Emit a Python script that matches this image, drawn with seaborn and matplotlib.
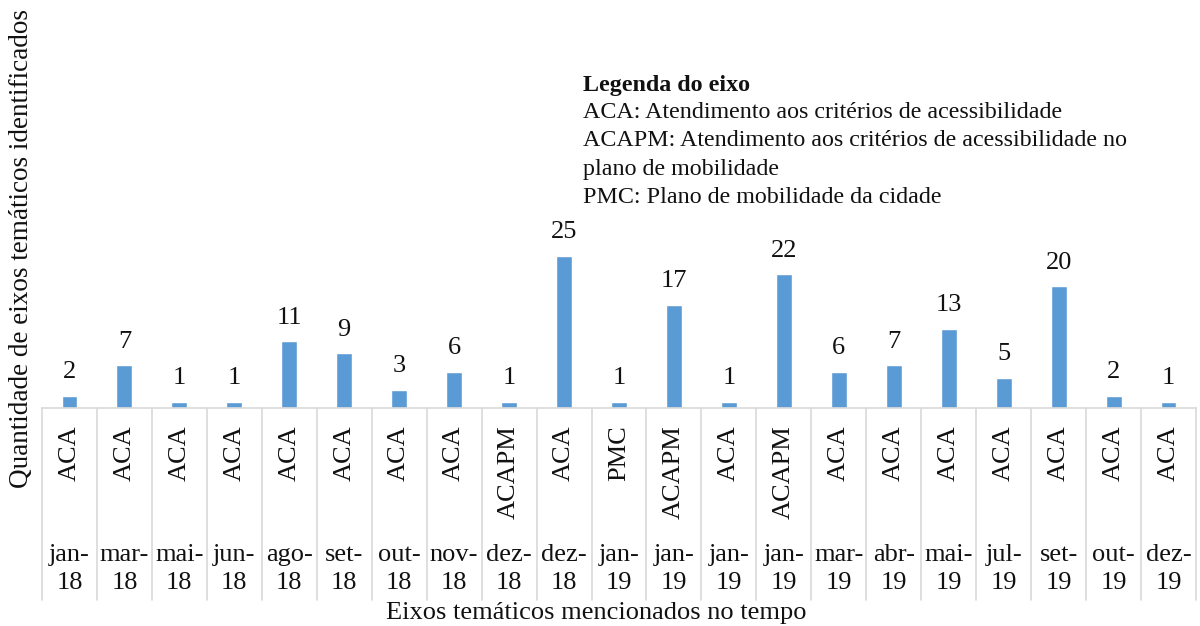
import numpy as np
import pandas as pd
import matplotlib
matplotlib.use("Agg")
import matplotlib.pyplot as plt
import matplotlib.transforms as mtransforms
import seaborn as sns

MESES = ["jan-18", "mar-18", "mai-18", "jun-18", "ago-18", "set-18", "out-18",
         "nov-18", "dez-18", "dez-18", "jan-19", "jan-19", "jan-19", "jan-19",
         "mar-19", "abr-19", "mai-19", "jul-19", "set-19", "out-19", "dez-19"]
EIXOS = ["ACA", "ACA", "ACA", "ACA", "ACA", "ACA", "ACA", "ACA", "ACAPM", "ACA",
         "PMC", "ACAPM", "ACA", "ACAPM", "ACA", "ACA", "ACA", "ACA", "ACA", "ACA", "ACA"]
QTD = [2, 7, 1, 1, 11, 9, 3, 6, 1, 25, 1, 17, 1, 22, 6, 7, 13, 5, 20, 2, 1]

LEGENDA = ["ACA: Atendimento aos critérios de acessibilidade",
           "ACAPM: Atendimento aos critérios de acessibilidade no",
           "plano de mobilidade",
           "PMC: Plano de mobilidade da cidade"]

df = pd.DataFrame({"pos": np.arange(len(QTD)), "mes": MESES, "eixo": EIXOS, "qtd": QTD})

sns.set_theme(style="white")
plt.rcParams["font.family"] = ["Liberation Serif", "DejaVu Serif"]

W, H = 1200, 626
fig = plt.figure(figsize=(12, 6.26), dpi=100)
ax = fig.add_axes([42 / W, (H - 408) / H, (1196 - 42) / W, 408 / H])

sns.barplot(data=df, x="pos", y="qtd", color="#5B9BD5", saturation=1,
            width=0.29, ax=ax)
ax.bar_label(ax.containers[0], padding=9, fontsize=19, color="#111111")

ax.set_xlim(-0.5, len(QTD) - 0.5)
ax.set_ylim(0, 408 / 6.08)
for s in ["top", "right", "left"]:
    ax.spines[s].set_visible(False)
ax.spines["bottom"].set_color("#D9D9D9")
ax.spines["bottom"].set_linewidth(1.2)
ax.set_yticks([])
ax.set_xticks([])
ax.set_xlabel("")
ax.set_ylabel("")

# category axis (two levels) drawn below the plot
trans = mtransforms.blended_transform_factory(ax.transData, fig.transFigure)
for b in np.arange(-0.5, len(QTD), 1.0):
    ax.plot([b, b], [1 - 408 / H, 1 - 600 / H], color="#D9D9D9", lw=1.2,
            transform=trans, clip_on=False)
for i, (mes, eixo) in enumerate(zip(MESES, EIXOS)):
    ax.text(i, 1 - 425 / H, eixo, rotation=90, ha="center", va="top",
            fontsize=19, transform=trans, color="#111111")
    ax.text(i, 1 - 569 / H, mes.replace("-", "-\n"), ha="center", va="center",
            fontsize=19, transform=trans, linespacing=1.35, color="#111111")

fig.text(596 / W, 1 - 613 / H, "Eixos temáticos mencionados no tempo",
         ha="center", va="center", fontsize=19, color="#111111")
fig.text(22 / W, 1 - 248 / H, "Quantidade de eixos temáticos identificados",
         rotation=90, ha="center", va="center", fontsize=19.5, color="#111111")

fig.text(583 / W, 1 - 85 / H, "Legenda do eixo", fontweight="bold",
         ha="left", va="center", fontsize=17.3, color="#111111")
for k, linha in enumerate(LEGENDA):
    fig.text(583 / W, 1 - (112 + 28.5 * k) / H, linha, ha="left", va="center",
             fontsize=17.3, color="#111111")

fig.savefig("out.png", dpi=100)
